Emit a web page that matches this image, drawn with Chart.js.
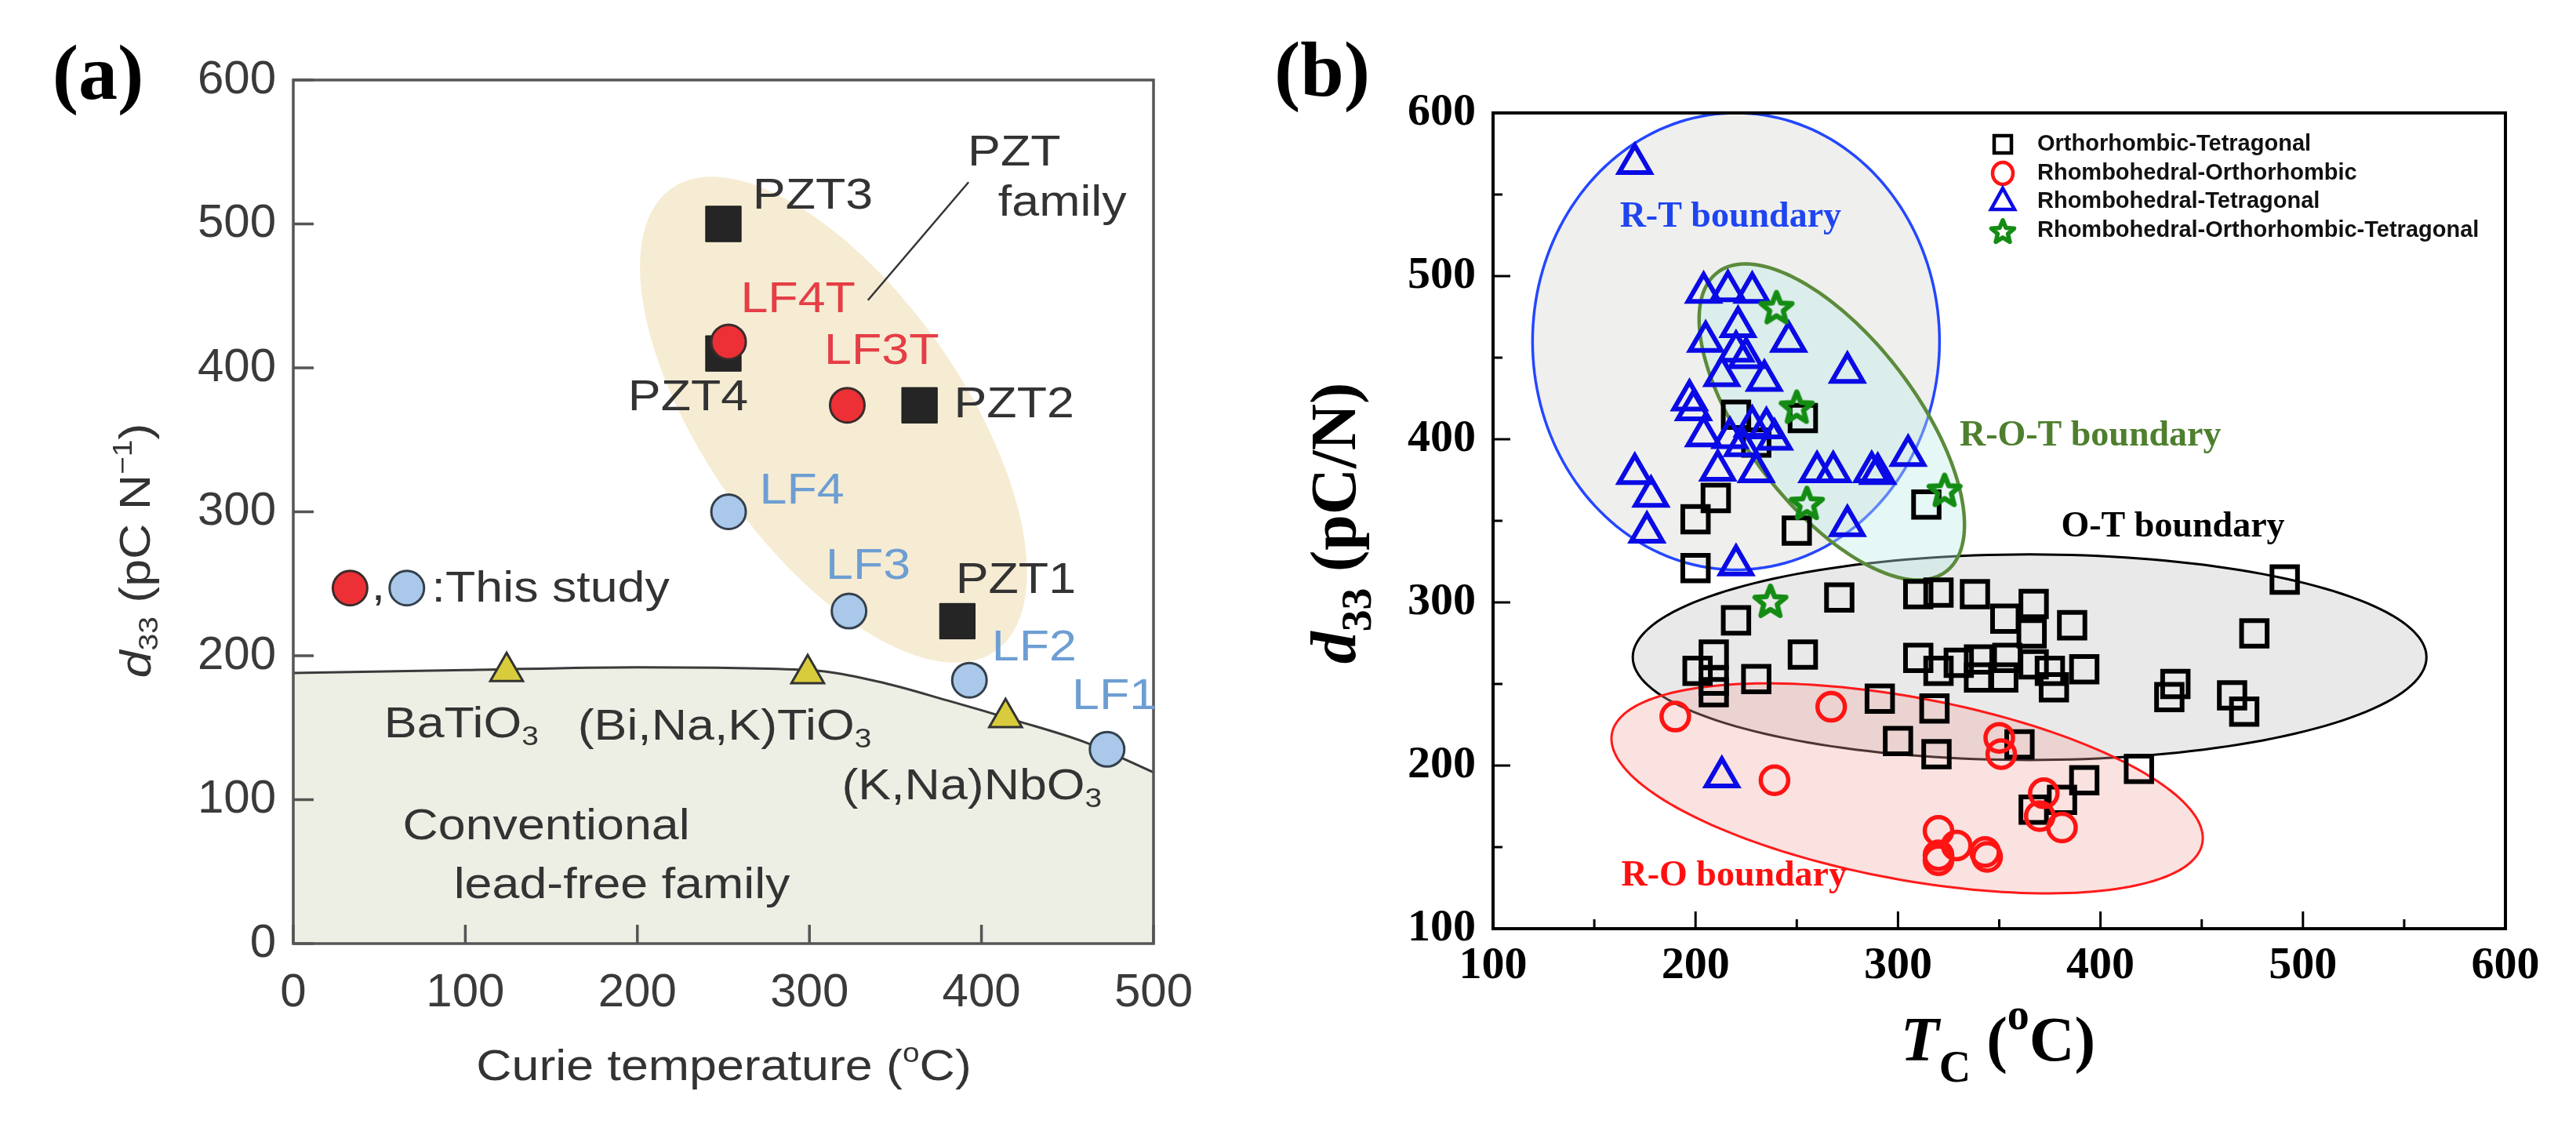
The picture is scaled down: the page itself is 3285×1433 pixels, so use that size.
<!DOCTYPE html>
<html><head><meta charset="utf-8">
<script src="https://cdn.jsdelivr.net/npm/chart.js@4.4.1/dist/chart.umd.min.js"></script>
<style>
html,body{margin:0;padding:0;background:#fff;}
#wrap{position:relative;width:3285px;height:1433px;overflow:hidden;background:#fff;}
.box{position:absolute;top:0;height:1433px;}
</style></head><body>
<div id="wrap">
<div class="box" style="left:0;width:1600px"><canvas id="ca"></canvas></div>
<div class="box" style="left:1600px;width:1685px"><canvas id="cb"></canvas></div>
</div>
<script>
// ---------------- Panel (a) data ----------------
const aXTicks = [0,100,200,300,400,500];
const aYTicks = [0,100,200,300,400,500,600];
const pztNames = ['PZT3','PZT4','PZT2','PZT1'];
const pztTc    = [250,250,364,386];
const pztD33   = [500,410,374,224];
const lfTNames = ['LF4T','LF3T'];
const lfTTc    = [253,322];
const lfTD33   = [418,374];
const lfNames  = ['LF4','LF3','LF2','LF1'];
const lfTc     = [253,323,393,473];
const lfD33    = [300,231,183,135];
const convNames = ['BaTiO3','(Bi,Na,K)TiO3','(K,Na)NbO3'];
const convTc    = [124,299,414];
const convD33   = [189,187.5,157];
const boundaryTc  = [0,100,200,300,340,380,420,460,500];
const boundaryD33 = [188,190,192,190,182,169,155,140,119];
const keyRedTc = [33],  keyRedD33 = [247];
const keyBlueTc = [66], keyBlueD33 = [247];

// ---------------- Panel (b) data ----------------
const bXTicks = [100,200,300,400,500,600];
const bYTicks = [100,200,300,400,500,600];
const otTc  = [220,253,230,210,200,250,314,200,271,310,320,338,367,353,366,386,220,491,476,253,209,201,209,230,209,310,320,330,340,340,354,352,367,375,377,392,437,434,465,471,291,318,300,319,360,419,392,367,381];
const otD33 = [415,413,398,364,351,344,360,321,303,305,306,305,299,290,281,286,289,314,281,268,268,258,252,253,245,266,258,263,265,254,266,254,262,258,248,259,250,242,243,233,241,235,215,207,213,198,191,173,179];
const roTc  = [190,267,239,350,351,372,370,381,320,320,320,329,344,343];
const roD33 = [230,236,191,217,207,183,169,162,160,145,142,151,144,147];
const rtTc  = [170,204,216,228,221,205,246,220,225,213,234,275,197,199,228,235,204,217,239,223,211,230,170,260,268,287,290,305,178,176,275,220,213];
const rtD33 = [569,490,491,490,469,460,460,454,450,439,436,441,424,418,408,407,402,401,400,396,381,380,379,380,380,380,379,390,365,343,347,323,193];
const rotTc  = [240,250,255,323,237];
const rotD33 = [481,420,361,369,301];
const bLegend = ['Orthorhombic-Tetragonal','Rhombohedral-Orthorhombic','Rhombohedral-Tetragonal','Rhombohedral-Orthorhombic-Tetragonal'];

const pts = (xs, ys) => xs.map((x, i) => ({x, y: ys[i]}));

// ---------------- helpers ----------------
function P(chart, x, y){ return [chart.scales.x.getPixelForValue(x), chart.scales.y.getPixelForValue(y)]; }
function ellipsePath(ctx, chart, e){
  ctx.beginPath();
  for (let k = 0; k <= 180; k++){
    const t = k / 180 * 2 * Math.PI;
    const x = e.c[0] + Math.cos(t) * e.u[0] + Math.sin(t) * e.v[0];
    const y = e.c[1] + Math.cos(t) * e.u[1] + Math.sin(t) * e.v[1];
    const p = P(chart, x, y);
    if (k) ctx.lineTo(p[0], p[1]); else ctx.moveTo(p[0], p[1]);
  }
  ctx.closePath();
}
function rich(ctx, x, y, segs, o){
  ctx.save();
  ctx.translate(x, y);
  if (o.rot) ctx.rotate(o.rot);
  ctx.scale(o.sx || 1, 1);
  ctx.fillStyle = o.color || '#000';
  ctx.textBaseline = 'middle';
  ctx.textAlign = 'left';
  const subScale = o.subScale || 0.62, subOff = o.subOff || 0.28, supOff = o.supOff || 0.32;
  const fontOf = s => `${s.i ? 'italic ' : ''}${o.weight || 'normal'} ${s.s ? o.size * subScale : o.size}px ${o.family}`;
  let w = 0;
  segs.forEach(s => { ctx.font = fontOf(s); s.w = ctx.measureText(s.t).width; w += s.w; });
  let cx = o.align === 'center' ? -w / 2 : (o.align === 'right' ? -w : 0);
  segs.forEach(s => {
    ctx.font = fontOf(s);
    const dy = s.s === 'sub' ? o.size * subOff : (s.s === 'sup' ? -o.size * supOff : 0);
    ctx.fillText(s.t, cx, dy);
    cx += s.w;
  });
  ctx.restore();
}
function chem(name){ // subscript digits after O
  const segs = []; const re = /(O)(\d)/g; let last = 0, m;
  while ((m = re.exec(name))){ segs.push({t: name.slice(last, m.index + 1)}); segs.push({t: m[2], s: 'sub'}); last = m.index + 2; }
  if (last < name.length) segs.push({t: name.slice(last)});
  return segs;
}

// ---------------- Panel (a) ----------------
const A_FONT = 'Liberation Sans, Arial, sans-serif';
const aEllipse = {c: [314, 364], u: [94.1, -160.7], v: [-61.6, -51.6]};
const aText = { size: 56, family: A_FONT, sx: 1.12 };
const panelA = {
  id: 'panelA',
  beforeDatasetsDraw(chart){
    const ctx = chart.ctx, a = chart.chartArea;
    ctx.save();
    ctx.beginPath(); ctx.rect(a.left, a.top, a.right - a.left, a.bottom - a.top); ctx.clip();
    ellipsePath(ctx, chart, aEllipse);
    ctx.fillStyle = '#f6ecd3'; ctx.fill();
    ctx.restore();
  },
  afterDatasetsDraw(chart){
    const ctx = chart.ctx, a = chart.chartArea, sx = chart.scales.x, sy = chart.scales.y;
    ctx.save();
    ctx.strokeStyle = '#555'; ctx.lineWidth = 3.5;
    ctx.strokeRect(a.left, a.top, a.right - a.left, a.bottom - a.top);
    ctx.beginPath();
    aXTicks.forEach(v => { const p = sx.getPixelForValue(v); ctx.moveTo(p, a.bottom); ctx.lineTo(p, a.bottom - 24); });
    aYTicks.forEach(v => { const p = sy.getPixelForValue(v); ctx.moveTo(a.left, p); ctx.lineTo(a.left + 26, p); });
    ctx.stroke();
    const l1 = P(chart, 334, 447), l2 = P(chart, 392.5, 529);
    ctx.strokeStyle = '#333'; ctx.lineWidth = 2.5;
    ctx.beginPath(); ctx.moveTo(l1[0], l1[1]); ctx.lineTo(l2[0], l2[1]); ctx.stroke();
    ctx.restore();

    const T = (segs, x, y, color, align) => { const p = P(chart, x, y); rich(ctx, p[0], p[1], segs, Object.assign({}, aText, {color, align})); };
    const black = '#333', red = '#e53e46', blue = '#6d9ed3';
    T([{t: pztNames[0]}], 267, 519, black, 'left');
    T([{t: lfTNames[0]}], 260, 447, red, 'left');
    T([{t: lfTNames[1]}], 308.6, 411, red, 'left');
    T([{t: pztNames[1]}], 229.5, 379, black, 'center');
    T([{t: pztNames[2]}], 384, 374, black, 'left');
    T([{t: lfNames[0]}], 271, 314, blue, 'left');
    T([{t: lfNames[1]}], 309.5, 262, blue, 'left');
    T([{t: pztNames[3]}], 385, 252, black, 'left');
    T([{t: lfNames[2]}], 406, 205, blue, 'left');
    T([{t: lfNames[3]}], 452.6, 171.6, blue, 'left');
    T([{t: ','}], 45.5, 247, black, 'left');
    T([{t: ':This study'}], 80.5, 246, black, 'left');
    T(chem(convNames[0]), 52.8, 151.5, black, 'left');
    T(chem(convNames[1]), 165.3, 150, black, 'left');
    T(chem(convNames[2]), 318.8, 108.8, black, 'left');
    T([{t: 'Conventional'}], 147, 81, black, 'center');
    T([{t: 'lead-free family'}], 191, 40, black, 'center');
    T([{t: 'PZT'}], 419, 549, black, 'center');
    T([{t: 'family'}], 447, 514, black, 'center');

    rich(ctx, 176, 702, [{t: 'd', i: 1}, {t: '33', s: 'sub'}, {t: ' (pC N'}, {t: '\u22121', s: 'sup'}, {t: ')'}],
         Object.assign({}, aText, {color: black, align: 'center', rot: -Math.PI / 2}));
    rich(ctx, 923, 1362, [{t: 'Curie temperature ('}, {t: 'o', s: 'sup'}, {t: 'C)'}],
         Object.assign({}, aText, {color: black, align: 'center'}));
    rich(ctx, 125, 100, [{t: '(a)'}], {size: 100, family: 'Liberation Serif, Times New Roman, serif', weight: 'bold', color: '#000', align: 'center'});
  }
};

new Chart(document.getElementById('ca'), {
  type: 'scatter',
  data: { datasets: [
    { label: 'This study (red)', data: pts(lfTTc, lfTD33), pointStyle: 'circle', pointRadius: 22, backgroundColor: '#ec3036', borderColor: '#3b2b2b', borderWidth: 3, order: 1 },
    { label: 'This study (blue)', data: pts(lfTc, lfD33), pointStyle: 'circle', pointRadius: 22, backgroundColor: '#a9c8ea', borderColor: '#34404c', borderWidth: 3, order: 1 },
    { label: 'key red', data: pts(keyRedTc, keyRedD33), pointStyle: 'circle', pointRadius: 22, backgroundColor: '#ec3036', borderColor: '#3b2b2b', borderWidth: 3, order: 1 },
    { label: 'key blue', data: pts(keyBlueTc, keyBlueD33), pointStyle: 'circle', pointRadius: 22, backgroundColor: '#a9c8ea', borderColor: '#34404c', borderWidth: 3, order: 1 },
    { label: 'PZT', data: pts(pztTc, pztD33), pointStyle: 'rect', pointRadius: 32, backgroundColor: '#252525', borderColor: '#1a1a1a', borderWidth: 1, order: 2 },
    { label: 'Conventional', data: pts(convTc, convD33), pointStyle: 'triangle', pointRadius: 24, backgroundColor: '#d9cc3c', borderColor: '#333', borderWidth: 3, order: 2 },
    { type: 'line', label: 'boundary', data: pts(boundaryTc, boundaryD33), pointRadius: 0, borderColor: '#3a3a3a', borderWidth: 3,
      cubicInterpolationMode: 'monotone', fill: 'origin', backgroundColor: '#edefe5', order: 10 }
  ]},
  options: {
    responsive: true, maintainAspectRatio: false, devicePixelRatio: 1, animation: false,
    layout: { padding: { left: 174, top: 102, right: 129, bottom: 100 } },
    plugins: { legend: { display: false }, tooltip: { enabled: false } },
    scales: {
      x: { type: 'linear', min: 0, max: 500,
        afterBuildTicks: s => { s.ticks = aXTicks.map(v => ({value: v})); },
        afterFit: s => { s.height = 130; },
        grid: { display: false, drawTicks: false }, border: { display: false },
        ticks: { padding: 27, autoSkip: false, maxRotation: 0, color: '#3a3a3a', font: { family: A_FONT, size: 60 } } },
      y: { type: 'linear', min: 0, max: 600,
        afterBuildTicks: s => { s.ticks = aYTicks.map(v => ({value: v})); },
        afterFit: s => { s.width = 200; },
        grid: { display: false, drawTicks: false }, border: { display: false },
        ticks: { padding: 22, autoSkip: false, color: '#3a3a3a', font: { family: A_FONT, size: 60 } } }
    }
  },
  plugins: [panelA]
});

// ---------------- Panel (b) ----------------
const B_SERIF = 'Liberation Serif, Times New Roman, serif';
const B_SANS = 'Liberation Sans, Arial, sans-serif';
const C_BLACK = '#000', C_RED = '#ff1414', C_BLUE = '#0a0ae6', C_GREEN = '#148c14';
const bEllipses = [
  { c: [220, 460],   u: [100.5, 0],     v: [0, 140],      fill: '#efefed',              stroke: '#2447ff', lw: 3.5 },
  { c: [365, 266.4], u: [196, 0],       v: [0, 63],       fill: '#e9e9e9',              stroke: '#000',    lw: 3 },
  { c: [304.5, 186], u: [145.8, -33.6], v: [-8.2, -54.9], fill: 'rgba(236,165,160,0.32)', stroke: '#ff1a1a', lw: 3 },
  { c: [267.3, 410.6], u: [56.5, -91.6], v: [-33.2, -31.5], fill: 'rgba(190,236,232,0.38)', stroke: '#5b8b3b', lw: 4.5 }
];
function makeStar(size, color, lw){
  const c = document.createElement('canvas'); c.width = size; c.height = size;
  const g = c.getContext('2d'); const h = size / 2;
  g.strokeStyle = color; g.lineWidth = lw; g.lineJoin = 'round';
  g.beginPath();
  for (let k = 0; k < 10; k++){
    const r = k % 2 ? h * 0.36 : h - lw / 2 - 1;
    const ang = -Math.PI / 2 + k * Math.PI / 5;
    const x = h + r * Math.cos(ang), y = h + 2 + r * Math.sin(ang);
    if (k) g.lineTo(x, y); else g.moveTo(x, y);
  }
  g.closePath(); g.stroke();
  return c;
}
const starImg = makeStar(50, C_GREEN, 6.5);
const starLegend = makeStar(38, C_GREEN, 5.5);

function legendMarker(ctx, kind, x, y){
  ctx.save(); ctx.lineWidth = 4.5;
  if (kind === 0){ ctx.strokeStyle = C_BLACK; ctx.strokeRect(x - 11, y - 11, 22, 22); }
  else if (kind === 1){ ctx.strokeStyle = C_RED; ctx.beginPath(); ctx.ellipse(x, y, 13, 14, 0, 0, 2 * Math.PI); ctx.stroke(); }
  else if (kind === 2){ ctx.strokeStyle = C_BLUE; ctx.beginPath(); ctx.moveTo(x, y - 17); ctx.lineTo(x + 15, y + 10); ctx.lineTo(x - 15, y + 10); ctx.closePath(); ctx.stroke(); }
  else { ctx.drawImage(starLegend, x - 19, y - 19); }
  ctx.restore();
}

const panelB = {
  id: 'panelB',
  beforeDatasetsDraw(chart){
    const ctx = chart.ctx, a = chart.chartArea;
    ctx.save();
    ctx.beginPath(); ctx.rect(a.left, a.top, a.right - a.left, a.bottom - a.top); ctx.clip();
    bEllipses.forEach(e => {
      ellipsePath(ctx, chart, e);
      ctx.fillStyle = e.fill; ctx.fill();
      ctx.strokeStyle = e.stroke; ctx.lineWidth = e.lw; ctx.stroke();
    });
    ctx.restore();
  },
  afterDatasetsDraw(chart){
    const ctx = chart.ctx, a = chart.chartArea, sx = chart.scales.x, sy = chart.scales.y;
    ctx.save();
    ctx.strokeStyle = '#000'; ctx.lineWidth = 4;
    ctx.strokeRect(a.left, a.top, a.right - a.left, a.bottom - a.top);
    ctx.lineWidth = 3;
    ctx.beginPath();
    bXTicks.forEach((v, i) => {
      const p = sx.getPixelForValue(v); ctx.moveTo(p, a.bottom); ctx.lineTo(p, a.bottom - 22);
      if (i < bXTicks.length - 1){ const m = sx.getPixelForValue(v + 50); ctx.moveTo(m, a.bottom); ctx.lineTo(m, a.bottom - 12); }
    });
    bYTicks.forEach((v, i) => {
      const p = sy.getPixelForValue(v); ctx.moveTo(a.left, p); ctx.lineTo(a.left + 22, p);
      if (i < bYTicks.length - 1){ const m = sy.getPixelForValue(v + 50); ctx.moveTo(a.left, m); ctx.lineTo(a.left + 12, m); }
    });
    ctx.stroke();
    ctx.restore();

    const bt = {size: 46, family: B_SERIF, weight: 'bold', align: 'center'};
    const T = (str, x, y, color) => { const p = P(chart, x, y); rich(ctx, p[0], p[1], [{t: str}], Object.assign({}, bt, {color})); };
    T('R-T boundary', 217.3, 536, '#1f45f0');
    T('R-O-T boundary', 395, 402, '#4e7f2e');
    T('O-T boundary', 435.8, 346, '#000');
    T('R-O boundary', 219, 132, '#ff1010');

    const rows = [40, 77, 113, 150];
    rows.forEach((dy, i) => {
      legendMarker(ctx, i, a.left + 650, a.top + dy);
      rich(ctx, a.left + 694, a.top + dy, [{t: bLegend[i]}], {size: 29, family: B_SANS, weight: 'bold', color: '#111', align: 'left'});
    });

    rich(ctx, 107, 667, [{t: 'd', i: 1}, {t: '33', s: 'sub'}, {t: ' (pC/N)'}],
         {size: 82, family: B_SERIF, weight: 'bold', color: '#000', align: 'center', rot: -Math.PI / 2, subScale: 0.68, subOff: 0.32});
    rich(ctx, 948, 1331, [{t: 'T', i: 1}, {t: 'C', s: 'sub'}, {t: ' ('}, {t: 'o', s: 'sup'}, {t: 'C)'}],
         {size: 80, family: B_SERIF, weight: 'bold', color: '#000', align: 'center', subScale: 0.7, subOff: 0.42, supOff: 0.42});
    rich(ctx, 86, 96, [{t: '(b)'}], {size: 100, family: B_SERIF, weight: 'bold', color: '#000', align: 'center'});
  }
};

new Chart(document.getElementById('cb'), {
  type: 'scatter',
  data: { datasets: [
    { label: bLegend[3], data: pts(rotTc, rotD33), pointStyle: starImg, pointRadius: 22, order: 0 },
    { label: bLegend[1], data: pts(roTc, roD33), pointStyle: 'circle', pointRadius: 17.5, backgroundColor: 'rgba(0,0,0,0)', borderColor: C_RED, borderWidth: 5.5, order: 1 },
    { label: bLegend[2], data: pts(rtTc, rtD33), pointStyle: 'triangle', pointRadius: 23, backgroundColor: 'rgba(0,0,0,0)', borderColor: C_BLUE, borderWidth: 6, order: 2 },
    { label: bLegend[0], data: pts(otTc, otD33), pointStyle: 'rect', pointRadius: 23, backgroundColor: 'rgba(0,0,0,0)', borderColor: C_BLACK, borderWidth: 6, order: 3 }
  ]},
  options: {
    responsive: true, maintainAspectRatio: false, devicePixelRatio: 1, animation: false,
    layout: { padding: { left: 144, top: 144, right: 90, bottom: 129 } },
    plugins: { legend: { display: false }, tooltip: { enabled: false } },
    scales: {
      x: { type: 'linear', min: 100, max: 600,
        afterBuildTicks: s => { s.ticks = bXTicks.map(v => ({value: v})); },
        afterFit: s => { s.height = 120; },
        grid: { display: false, drawTicks: false }, border: { display: false },
        ticks: { padding: 13, autoSkip: false, maxRotation: 0, color: '#000', font: { family: B_SERIF, size: 58, weight: 'bold' } } },
      y: { type: 'linear', min: 100, max: 600,
        afterBuildTicks: s => { s.ticks = bYTicks.map(v => ({value: v})); },
        afterFit: s => { s.width = 160; },
        grid: { display: false, drawTicks: false }, border: { display: false },
        ticks: { padding: 22, autoSkip: false, color: '#000', font: { family: B_SERIF, size: 58, weight: 'bold' } } }
    }
  },
  plugins: [panelB]
});
</script>
</body></html>
